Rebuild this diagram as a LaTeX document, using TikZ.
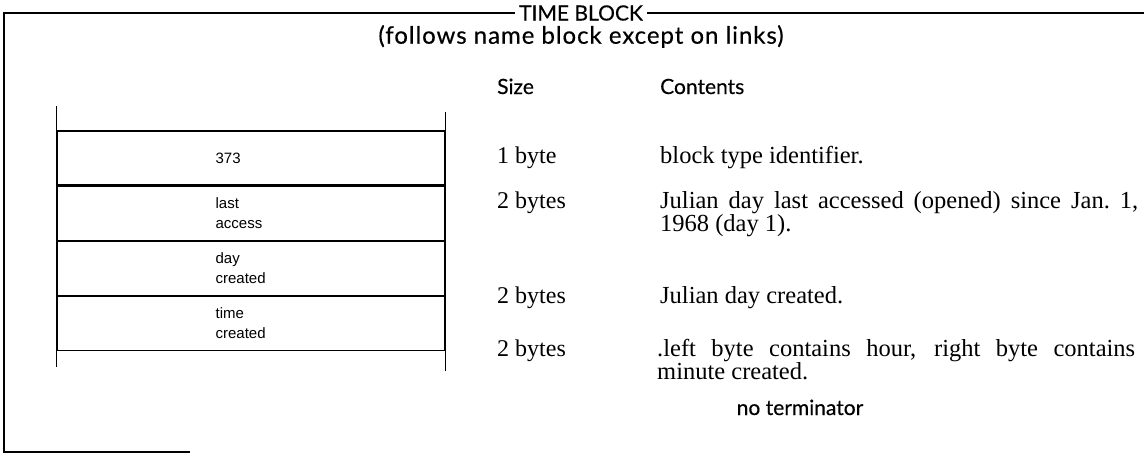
\documentclass[tikz,border=0pt]{standalone}
\usepackage{fontspec}
\setmainfont{Liberation Serif}
\newfontfamily\headfont[FakeBold=0.4]{Lato}
\newfontfamily\cellfont{Liberation Sans}
\usetikzlibrary{positioning}
\tikzset{
	field/.style={rectangle, draw, line width=1.1pt, minimum width=388pt,
		minimum height=54pt, inner sep=0pt},
	fieldtext/.style={anchor=west, align=left, inner sep=0pt,
		font=\cellfont\fontsize{15}{20}\selectfont},
	sizetext/.style={anchor=base west, inner sep=0pt, font=\fontsize{24}{20}\selectfont},
	desctext/.style={anchor=base west, inner sep=0pt, text width=478pt, align=justify,
		font=\fontsize{24.5}{19.5}\selectfont},
	headtext/.style={inner sep=0pt, font=\headfont\fontsize{21}{21}\selectfont},
	frame/.style={line width=1.2pt},
}

\begin{document}
\begin{tikzpicture}[x=1pt, y=-1pt]
	\useasboundingbox (0,0) rectangle (1144,453);
	% heading and open frame
	\node[headtext, inner xsep=4pt] (title) at (581,13) {TIME BLOCK};
	\node[headtext, below=4pt of title,
		font=\headfont\addfontfeatures{LetterSpace=4}\fontsize{24}{24}\selectfont] (note)
		{(follows name block except on links)};
	\draw[frame] (title.east) -- (1144,13);
	\draw[frame] (title.west) -- (4,13) -- (4,452) -- (190,452);
	% column headings
	\node[headtext, anchor=base west] (sizehd) at (497,94) {Size};
	\node[headtext, anchor=base west] (conthd) at (660,94) {Contents};
	% the record, one field per row
	\node[field] (typeid) at (251,158) {};
	\node[field, below=0pt of typeid] (lastacc) {};
	\node[field, below=0pt of lastacc] (daycr) {};
	\node[field, below=0pt of daycr] (timecr) {};
	\draw[line width=1.1pt] (typeid.north west) -- ++(0,-24);
	\draw[line width=1.1pt] (typeid.north east) -- ++(0,-18);
	\draw[line width=1.1pt] (timecr.south west) -- ++(0,16);
	\draw[line width=1.1pt] (timecr.south east) -- ++(0,20);
	\node[fieldtext] (typelbl) at ([xshift=159pt]typeid.west) {373};
	\node[fieldtext] (lastlbl) at ([xshift=159pt]lastacc.west) {last\\access};
	\node[fieldtext] (daylbl) at ([xshift=159pt]daycr.west) {day\\created};
	\node[fieldtext] (timelbl) at ([xshift=159pt]timecr.west) {time\\created};
	% sizes
	\node[sizetext] (sz1) at (497,163) {1 byte};
	\node[sizetext] (sz2) at (497,208) {2 bytes};
	\node[sizetext] (sz3) at (497,303) {2 bytes};
	\node[sizetext] (sz4) at (497,356) {2 bytes};
	% contents
	\node[desctext] (ct1) at (660,163) {block type identifier.};
	\node[desctext] (ct2) at (660,208) {Julian day last accessed (opened) since Jan.~1,\linebreak 1968 (day 1).};
	\node[desctext] (ct3) at (660,303) {Julian day created.};
	\node[desctext] (ct4) at (657,356) {.left byte contains hour, right byte contains\linebreak minute created.};
	\node[headtext, anchor=base] (noterm) at (800,415) {no terminator};
\end{tikzpicture}
\end{document}
